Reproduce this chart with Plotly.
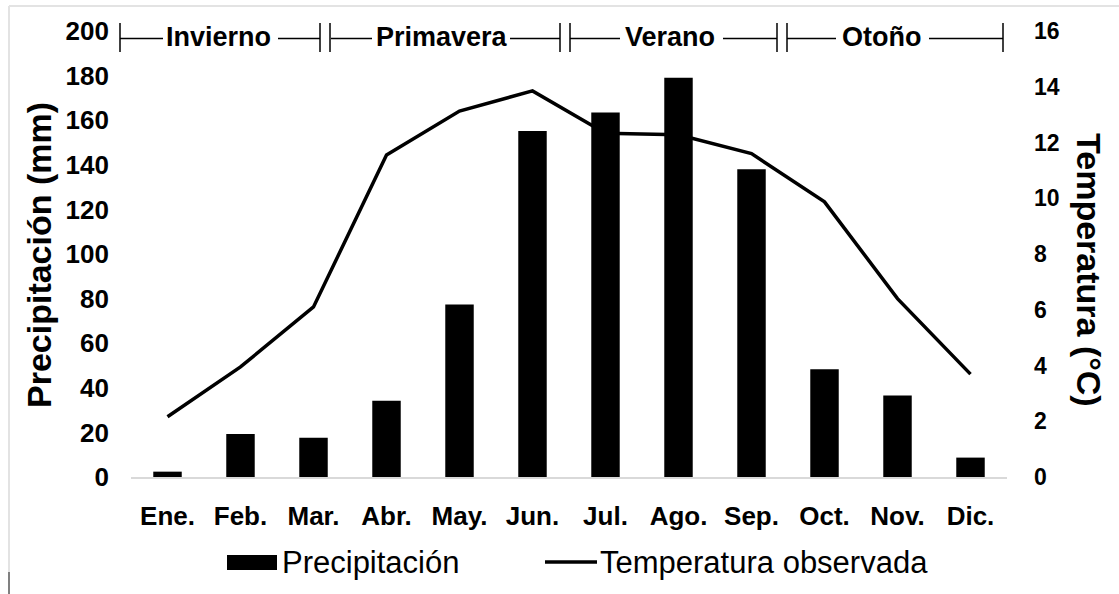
import plotly.graph_objects as go

# ---------------- data ----------------
meses = ["Ene.", "Feb.", "Mar.", "Abr.", "May.", "Jun.",
         "Jul.", "Ago.", "Sep.", "Oct.", "Nov.", "Dic."]
precipitacion = [2.4, 19.3, 17.6, 34.2, 77.4, 155.2, 163.4, 179.0, 138.0, 48.3, 36.6, 8.7]
temperatura = [2.16, 3.95, 6.1, 11.55, 13.13, 13.85, 12.33, 12.28, 11.6, 9.87, 6.4, 3.69]
estaciones = ["Invierno", "Primavera", "Verano", "Otoño"]
ticks_precip = list(range(0, 201, 20))
ticks_temp = list(range(0, 17, 2))

# ---------------- layout helpers ----------------
W, H = 1119, 594
L, R, T, B = 131, 112, 31, 117
PW = W - L - R
PH = H - T - B


def px(x):
    return (x - L) / PW


def py(y):
    return (H - B - y) / PH


FONT = "Arial, 'Liberation Sans', sans-serif"

fig = go.Figure()
fig.add_trace(go.Scatter(
    x=meses, y=temperatura, mode="lines", name="Temperatura observada",
    line=dict(color="black", width=3.5), yaxis="y", showlegend=False))
fig.add_trace(go.Bar(
    x=meses, y=precipitacion, name="Precipitación",
    marker=dict(color="black", line=dict(width=0)), yaxis="y2", showlegend=False))

tick_font_l = dict(family=FONT, size=26, color="black", weight="bold")
tick_font_r = dict(family=FONT, size=23, color="black", weight="bold")

fig.update_layout(
    width=W, height=H,
    margin=dict(l=L, r=R, t=T, b=B, autoexpand=False),
    paper_bgcolor="white", plot_bgcolor="white",
    bargap=0.61,
    xaxis=dict(type="category", range=[-0.5, 11.5], showline=True,
               linecolor="#d9d9d9", linewidth=1.5, showgrid=False, zeroline=False,
               ticks="", tickfont=dict(family=FONT, size=26, color="black", weight="bold"),
               ticklabelstandoff=15),
    yaxis=dict(side="right", range=[0, 16], tickvals=ticks_temp, showgrid=False,
               zeroline=False, showline=False, ticks="", tickfont=tick_font_r,
               ticklabelstandoff=26),
    yaxis2=dict(overlaying="y", side="left", range=[0, 200], tickvals=ticks_precip,
                showgrid=False, zeroline=False, showline=False, ticks="",
                tickfont=tick_font_l, ticklabelstandoff=21),
)

annotations = []
shapes = []

# axis titles
annotations.append(dict(text="Precipitación (mm)", textangle=-90, xref="paper", yref="paper",
                        x=px(39), y=py(255), xanchor="center", yanchor="middle", showarrow=False,
                        font=dict(family=FONT, size=34, color="black", weight="bold")))
annotations.append(dict(text="Temperatura (°C)", textangle=90, xref="paper", yref="paper",
                        x=px(1089), y=py(270), xanchor="center", yanchor="middle", showarrow=False,
                        font=dict(family=FONT, size=34, color="black", weight="bold")))

# season header
season_centers = [218.5, 441.5, 669.5, 881.0]
for name, cx in zip(estaciones, season_centers):
    annotations.append(dict(text=name, xref="paper", yref="paper", x=px(cx), y=py(37),
                            xanchor="center", yanchor="middle", showarrow=False,
                            font=dict(family=FONT, size=27, color="black", weight="bold")))
h_segments = [(120, 163), (278, 320), (331, 372), (510, 560), (570, 620),
              (723, 777), (787, 836), (929, 1003)]
for a, b in h_segments:
    shapes.append(dict(type="line", xref="paper", yref="paper", x0=px(a), x1=px(b),
                       y0=py(38.5), y1=py(38.5), line=dict(color="black", width=1.5)))
for v in [120, 320, 330, 560, 570, 777, 787, 1003]:
    shapes.append(dict(type="line", xref="paper", yref="paper", x0=px(v), x1=px(v),
                       y0=py(23), y1=py(52), line=dict(color="black", width=1.5)))

# manual legend
shapes.append(dict(type="rect", xref="paper", yref="paper", x0=px(227), x1=px(277),
                   y0=py(570), y1=py(555), fillcolor="black", line=dict(width=0)))
shapes.append(dict(type="line", xref="paper", yref="paper", x0=px(545), x1=px(597),
                   y0=py(562), y1=py(562), line=dict(color="black", width=3.5)))
annotations.append(dict(text="Precipitación", xref="paper", yref="paper", x=px(280), y=py(562),
                        xanchor="left", yanchor="middle", showarrow=False,
                        font=dict(family=FONT, size=31, color="black")))
annotations.append(dict(text="Temperatura observada", xref="paper", yref="paper", x=px(598),
                        y=py(562), xanchor="left", yanchor="middle", showarrow=False,
                        font=dict(family=FONT, size=31, color="black")))

# frame remnants of the original picture
shapes.append(dict(type="line", xref="paper", yref="paper", x0=px(9), x1=px(1119),
                   y0=py(6), y1=py(6), line=dict(color="#e3e3e3", width=2)))
shapes.append(dict(type="line", xref="paper", yref="paper", x0=px(9), x1=px(9),
                   y0=py(6), y1=py(572), line=dict(color="#e3e3e3", width=2)))
shapes.append(dict(type="line", xref="paper", yref="paper", x0=px(9), x1=px(9),
                   y0=py(572), y1=py(594), line=dict(color="#808080", width=2)))

fig.update_layout(annotations=annotations, shapes=shapes)

fig.write_html("out.html", config={"displayModeBar": False},
               post_script="document.body.style.margin='0';")
